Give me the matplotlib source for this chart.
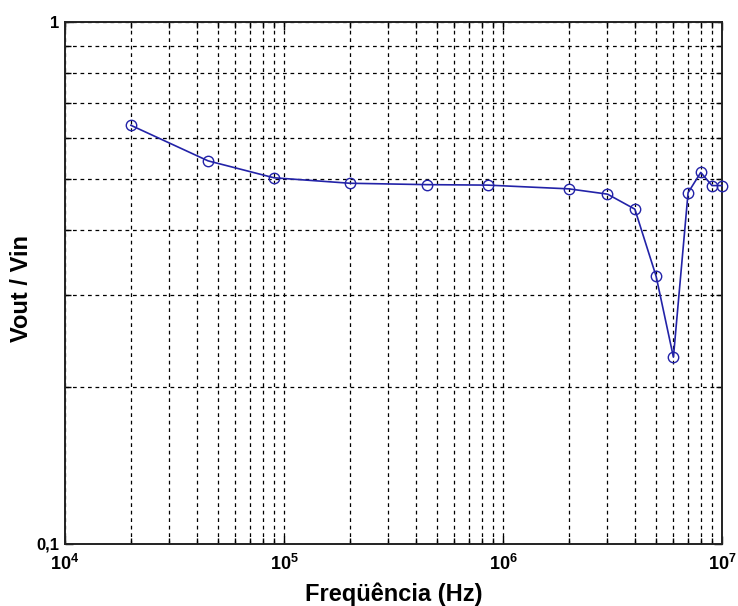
import matplotlib
matplotlib.use("Agg")
import matplotlib.pyplot as plt
from matplotlib.ticker import LogLocator, FixedLocator, NullFormatter, FixedFormatter

plt.rcParams['font.family'] = ['Liberation Sans', 'DejaVu Sans']
plt.rcParams['mathtext.fontset'] = 'custom'
plt.rcParams['mathtext.rm'] = 'Liberation Sans:bold'
plt.rcParams['mathtext.bf'] = 'Liberation Sans:bold'

# Measured frequency response
freq_hz = [2e4, 4.5e4, 9e4, 2e5, 4.5e5, 8.5e5, 2e6, 3e6, 4e6, 5e6, 6e6, 7e6, 8e6, 9e6, 1e7]
gain = [0.634, 0.542, 0.503, 0.491, 0.488, 0.487, 0.479, 0.468, 0.438, 0.326,
        0.228, 0.471, 0.515, 0.486, 0.486]

x_ticks = [1e4, 1e5, 1e6, 1e7]
x_tick_labels = [r'$\mathbf{10^{4}}$', r'$\mathbf{10^{5}}$', r'$\mathbf{10^{6}}$', r'$\mathbf{10^{7}}$']
y_ticks = [0.1, 1]
y_tick_labels = ['0,1', '1']

fig = plt.figure(figsize=(7.38, 6.06), dpi=100)
ax = fig.add_axes([65 / 738, 1 - 544 / 606, (722 - 65) / 738, (544 - 22) / 606])

ax.plot(freq_hz, gain, color='#2323a8', lw=1.2, marker='o', markersize=7.5,
        markerfacecolor='none', markeredgecolor='#2323a8', markeredgewidth=1.0,
        clip_on=False, zorder=3)

ax.set_xscale('log')
ax.set_yscale('log')
ax.set_xlim(1e4, 1e7)
ax.set_ylim(0.1, 1)

ax.xaxis.set_major_locator(FixedLocator(x_ticks))
ax.xaxis.set_major_formatter(FixedFormatter(x_tick_labels))
ax.xaxis.set_minor_locator(LogLocator(base=10, subs=range(2, 10)))
ax.xaxis.set_minor_formatter(NullFormatter())
ax.yaxis.set_major_locator(FixedLocator(y_ticks))
ax.yaxis.set_major_formatter(FixedFormatter(y_tick_labels))
ax.yaxis.set_minor_locator(LogLocator(base=10, subs=range(2, 10)))
ax.yaxis.set_minor_formatter(NullFormatter())

ax.grid(True, which='both', color='black', linestyle=(0, (3, 3)), linewidth=0.9)
ax.tick_params(which='both', direction='in', top=True, right=True, width=1)
ax.tick_params(which='major', length=6)
ax.tick_params(which='minor', length=4)
ax.tick_params(axis='x', labelsize=13, pad=7)
ax.tick_params(axis='y', labelsize=12, pad=4)
for lbl in ax.get_yticklabels():
    lbl.set_fontweight('bold')

for sp in ax.spines.values():
    sp.set_linewidth(1.4)
    sp.set_color('#222222')

ax.set_xlabel('Freqüência (Hz)', fontsize=17, fontweight='bold', labelpad=6)
ax.set_ylabel('Vout / Vin', fontsize=17, fontweight='bold')
ax.yaxis.set_label_coords(-0.049, 0.49)

fig.savefig('out.png', dpi=100, facecolor='white')
